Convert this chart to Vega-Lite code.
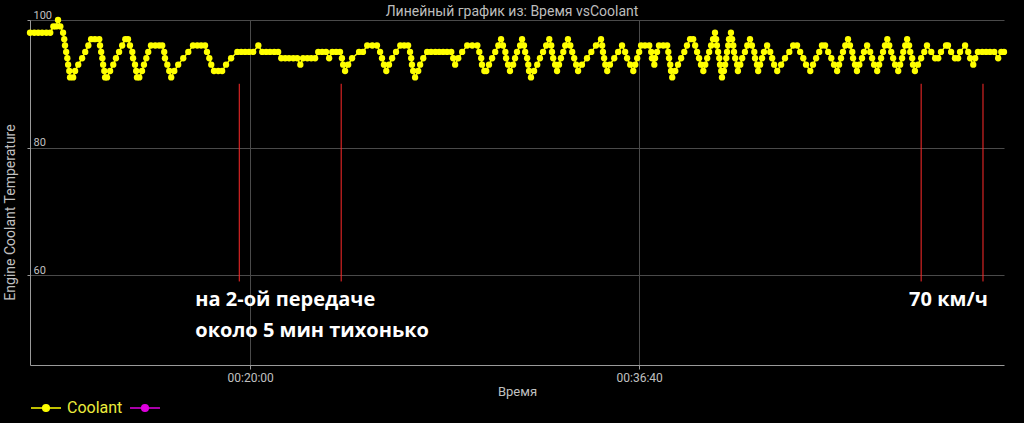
{
  "$schema": "https://vega.github.io/schema/vega-lite/v6.json",
  "width": 974,
  "height": 345,
  "autosize": {"type": "none"},
  "padding": {"left": 30, "top": 20, "right": 20, "bottom": 58},
  "background": "#000000",
  "title": {"text": "Линейный график из: Время vsCoolant", "color": "#bdbdbd", "font": "Roboto", "fontSize": 14, "fontWeight": "normal", "offset": 3, "dx": -5, "dy": 13},
  "config": {"view": {"stroke": null}, "font": "Roboto"},
  "datasets": {
    "coolant": [
      {"t":634,"v":98},{"t":645,"v":98},{"t":655,"v":98},{"t":665,"v":98},{"t":676,"v":98},{"t":686,"v":98},{"t":694,"v":99},{"t":701,"v":99},{"t":706,"v":100},{"t":712,"v":99},{"t":719,"v":98},{"t":722,"v":97},{"t":724,"v":96},{"t":727,"v":95},{"t":730,"v":94},{"t":732,"v":93},{"t":735,"v":92},{"t":737,"v":91},{"t":745,"v":91},{"t":750,"v":92},{"t":758,"v":93},{"t":768,"v":94},{"t":776,"v":95},{"t":784,"v":96},{"t":791,"v":97},{"t":801,"v":97},{"t":812,"v":97},{"t":814,"v":96},{"t":817,"v":95},{"t":820,"v":94},{"t":822,"v":93},{"t":825,"v":92},{"t":827,"v":91},{"t":832,"v":91},{"t":840,"v":92},{"t":848,"v":93},{"t":855,"v":94},{"t":863,"v":95},{"t":871,"v":96},{"t":879,"v":97},{"t":886,"v":97},{"t":891,"v":96},{"t":897,"v":95},{"t":899,"v":94},{"t":904,"v":93},{"t":907,"v":92},{"t":909,"v":91},{"t":915,"v":91},{"t":922,"v":92},{"t":927,"v":93},{"t":933,"v":94},{"t":938,"v":95},{"t":945,"v":96},{"t":956,"v":96},{"t":966,"v":96},{"t":974,"v":96},{"t":979,"v":95},{"t":981,"v":94},{"t":987,"v":93},{"t":992,"v":92},{"t":997,"v":91},{"t":1005,"v":92},{"t":1015,"v":93},{"t":1028,"v":94},{"t":1041,"v":95},{"t":1053,"v":96},{"t":1064,"v":96},{"t":1074,"v":96},{"t":1084,"v":96},{"t":1089,"v":95},{"t":1095,"v":94},{"t":1100,"v":93},{"t":1107,"v":92},{"t":1118,"v":92},{"t":1128,"v":92},{"t":1138,"v":93},{"t":1151,"v":94},{"t":1167,"v":95},{"t":1177,"v":95},{"t":1187,"v":95},{"t":1197,"v":95},{"t":1208,"v":95},{"t":1221,"v":96},{"t":1231,"v":95},{"t":1241,"v":95},{"t":1251,"v":95},{"t":1262,"v":95},{"t":1272,"v":95},{"t":1280,"v":94},{"t":1290,"v":94},{"t":1300,"v":94},{"t":1311,"v":94},{"t":1321,"v":94},{"t":1329,"v":93},{"t":1336,"v":94},{"t":1347,"v":94},{"t":1357,"v":94},{"t":1367,"v":94},{"t":1375,"v":95},{"t":1385,"v":95},{"t":1395,"v":95},{"t":1403,"v":94},{"t":1411,"v":95},{"t":1421,"v":95},{"t":1431,"v":95},{"t":1436,"v":94},{"t":1439,"v":93},{"t":1444,"v":92},{"t":1452,"v":93},{"t":1462,"v":94},{"t":1480,"v":95},{"t":1490,"v":95},{"t":1501,"v":96},{"t":1514,"v":96},{"t":1526,"v":96},{"t":1534,"v":95},{"t":1539,"v":94},{"t":1544,"v":93},{"t":1550,"v":92},{"t":1557,"v":93},{"t":1565,"v":94},{"t":1575,"v":95},{"t":1586,"v":96},{"t":1596,"v":96},{"t":1606,"v":96},{"t":1611,"v":95},{"t":1614,"v":94},{"t":1616,"v":93},{"t":1619,"v":92},{"t":1624,"v":91},{"t":1632,"v":92},{"t":1637,"v":93},{"t":1645,"v":94},{"t":1655,"v":95},{"t":1665,"v":95},{"t":1676,"v":95},{"t":1686,"v":95},{"t":1696,"v":95},{"t":1706,"v":95},{"t":1717,"v":95},{"t":1722,"v":94},{"t":1727,"v":93},{"t":1735,"v":94},{"t":1745,"v":95},{"t":1758,"v":96},{"t":1771,"v":96},{"t":1784,"v":96},{"t":1789,"v":95},{"t":1794,"v":94},{"t":1796,"v":93},{"t":1802,"v":92},{"t":1807,"v":92},{"t":1814,"v":93},{"t":1822,"v":94},{"t":1830,"v":95},{"t":1838,"v":96},{"t":1845,"v":97},{"t":1850,"v":96},{"t":1856,"v":95},{"t":1858,"v":94},{"t":1863,"v":93},{"t":1868,"v":92},{"t":1876,"v":93},{"t":1881,"v":94},{"t":1886,"v":95},{"t":1894,"v":96},{"t":1899,"v":97},{"t":1904,"v":96},{"t":1907,"v":95},{"t":1912,"v":94},{"t":1915,"v":93},{"t":1917,"v":92},{"t":1922,"v":91},{"t":1930,"v":92},{"t":1938,"v":93},{"t":1945,"v":94},{"t":1953,"v":95},{"t":1961,"v":96},{"t":1969,"v":97},{"t":1974,"v":96},{"t":1976,"v":95},{"t":1979,"v":94},{"t":1984,"v":93},{"t":1989,"v":92},{"t":1994,"v":93},{"t":1999,"v":94},{"t":2005,"v":95},{"t":2010,"v":96},{"t":2017,"v":97},{"t":2023,"v":96},{"t":2028,"v":95},{"t":2033,"v":94},{"t":2038,"v":93},{"t":2043,"v":92},{"t":2053,"v":93},{"t":2066,"v":94},{"t":2077,"v":95},{"t":2089,"v":96},{"t":2102,"v":97},{"t":2105,"v":96},{"t":2107,"v":95},{"t":2110,"v":94},{"t":2113,"v":93},{"t":2118,"v":92},{"t":2125,"v":93},{"t":2136,"v":94},{"t":2146,"v":95},{"t":2156,"v":96},{"t":2164,"v":95},{"t":2169,"v":94},{"t":2177,"v":93},{"t":2185,"v":92},{"t":2190,"v":93},{"t":2195,"v":94},{"t":2200,"v":95},{"t":2205,"v":96},{"t":2215,"v":96},{"t":2226,"v":96},{"t":2231,"v":95},{"t":2233,"v":94},{"t":2239,"v":93},{"t":2241,"v":94},{"t":2246,"v":95},{"t":2251,"v":96},{"t":2262,"v":96},{"t":2272,"v":96},{"t":2275,"v":95},{"t":2277,"v":94},{"t":2280,"v":93},{"t":2282,"v":92},{"t":2285,"v":91},{"t":2293,"v":92},{"t":2300,"v":93},{"t":2308,"v":94},{"t":2316,"v":95},{"t":2323,"v":96},{"t":2331,"v":97},{"t":2339,"v":97},{"t":2344,"v":96},{"t":2349,"v":95},{"t":2354,"v":94},{"t":2359,"v":93},{"t":2365,"v":92},{"t":2370,"v":93},{"t":2375,"v":94},{"t":2380,"v":95},{"t":2385,"v":96},{"t":2390,"v":97},{"t":2395,"v":98},{"t":2398,"v":97},{"t":2400,"v":96},{"t":2403,"v":95},{"t":2406,"v":94},{"t":2408,"v":93},{"t":2411,"v":92},{"t":2413,"v":91},{"t":2418,"v":92},{"t":2421,"v":93},{"t":2424,"v":94},{"t":2426,"v":95},{"t":2429,"v":96},{"t":2431,"v":97},{"t":2436,"v":98},{"t":2439,"v":97},{"t":2442,"v":96},{"t":2444,"v":95},{"t":2447,"v":94},{"t":2452,"v":93},{"t":2454,"v":92},{"t":2460,"v":93},{"t":2465,"v":94},{"t":2472,"v":95},{"t":2478,"v":96},{"t":2485,"v":97},{"t":2490,"v":96},{"t":2496,"v":95},{"t":2498,"v":94},{"t":2503,"v":93},{"t":2506,"v":92},{"t":2511,"v":93},{"t":2516,"v":94},{"t":2521,"v":95},{"t":2529,"v":96},{"t":2537,"v":95},{"t":2542,"v":94},{"t":2547,"v":93},{"t":2555,"v":92},{"t":2565,"v":93},{"t":2575,"v":94},{"t":2586,"v":95},{"t":2596,"v":96},{"t":2606,"v":96},{"t":2614,"v":95},{"t":2622,"v":94},{"t":2629,"v":93},{"t":2640,"v":92},{"t":2647,"v":93},{"t":2655,"v":94},{"t":2663,"v":95},{"t":2670,"v":96},{"t":2678,"v":96},{"t":2686,"v":95},{"t":2694,"v":94},{"t":2701,"v":93},{"t":2709,"v":92},{"t":2714,"v":93},{"t":2719,"v":94},{"t":2724,"v":95},{"t":2730,"v":96},{"t":2737,"v":97},{"t":2742,"v":96},{"t":2748,"v":95},{"t":2750,"v":94},{"t":2755,"v":93},{"t":2760,"v":92},{"t":2766,"v":93},{"t":2773,"v":94},{"t":2778,"v":95},{"t":2786,"v":96},{"t":2794,"v":95},{"t":2799,"v":94},{"t":2804,"v":93},{"t":2812,"v":92},{"t":2817,"v":93},{"t":2822,"v":94},{"t":2827,"v":95},{"t":2832,"v":96},{"t":2838,"v":97},{"t":2843,"v":96},{"t":2848,"v":95},{"t":2853,"v":94},{"t":2858,"v":93},{"t":2866,"v":92},{"t":2871,"v":93},{"t":2876,"v":94},{"t":2879,"v":95},{"t":2884,"v":96},{"t":2889,"v":97},{"t":2894,"v":96},{"t":2897,"v":95},{"t":2902,"v":94},{"t":2904,"v":93},{"t":2909,"v":92},{"t":2917,"v":93},{"t":2925,"v":94},{"t":2933,"v":95},{"t":2940,"v":96},{"t":2951,"v":95},{"t":2961,"v":94},{"t":2969,"v":94},{"t":2976,"v":95},{"t":2989,"v":96},{"t":2994,"v":96},{"t":3002,"v":95},{"t":3012,"v":94},{"t":3020,"v":94},{"t":3025,"v":95},{"t":3038,"v":96},{"t":3046,"v":95},{"t":3051,"v":94},{"t":3059,"v":93},{"t":3064,"v":94},{"t":3071,"v":95},{"t":3082,"v":95},{"t":3092,"v":95},{"t":3102,"v":95},{"t":3113,"v":95},{"t":3123,"v":94},{"t":3131,"v":95},{"t":3138,"v":95}
    ],
    "rules": [
      {"t":1172,"v":59,"v2":90},{"t":1434,"v":59,"v2":90},{"t":2925,"v":59,"v2":90},{"t":3084,"v":59,"v2":90}
    ],
    "notes": [
      {"t":1059,"v":56.1,"label":"на 2-ой передаче"},
      {"t":1059,"v":51.2,"label":"около 5 мин тихонько"},
      {"t":2894,"v":56.1,"label":"70 км/ч"}
    ]
  },
  "encoding": {
    "x": {"field": "t", "type": "quantitative", "title": "Время",
      "scale": {"domain": [634, 3138], "nice": false, "zero": false},
      "axis": {"values": [1200, 2200], "labelExpr": "utcFormat(datum.value*1000,'%H:%M:%S')", "grid": true, "gridColor": "#4a4a4a", "domainColor": "#9a9a9a", "tickColor": "#9a9a9a", "tickSize": 4, "labelColor": "#c0c0c0", "labelFontSize": 12, "labelPadding": 3, "labelFont": "Roboto", "titleColor": "#c0c0c0", "titleFontSize": 13, "titleFontWeight": "normal", "titleFont": "Roboto", "titlePadding": 2}},
    "y": {"field": "v", "type": "quantitative", "title": "Engine Coolant Temperature",
      "scale": {"domain": [45.9, 100], "nice": false, "zero": false},
      "axis": {"values": [60, 80, 100], "grid": true, "gridColor": "#4a4a4a", "domainColor": "#9a9a9a", "tickColor": "#9a9a9a", "tickSize": 3, "labelAlign": "left", "labelBaseline": "bottom", "labelPadding": -6, "labelColor": "#c0c0c0", "labelFontSize": 11, "labelFont": "Roboto", "titleColor": "#c0c0c0", "titleFontSize": 14, "titleFontWeight": "normal", "titleFont": "Roboto", "titleX": -20, "titleY": 192, "titleAngle": -90, "titleAlign": "center", "titleBaseline": "middle"}}
  },
  "layer": [
    {"data": {"name": "rules"}, "mark": {"type": "rule", "color": "#ff2a2a", "strokeWidth": 1},
      "encoding": {"y2": {"field": "v2"}}},
    {"data": {"name": "coolant"}, "mark": {"type": "line", "strokeWidth": 1.5},
      "encoding": {"color": {"datum": "Coolant", "type": "nominal",
        "scale": {"domain": ["Coolant", " "], "range": ["#ffff00", "#e000e0"]},
        "legend": {"title": null, "orient": "none", "legendX": 0, "legendY": 372, "direction": "horizontal",
          "symbolType": "M-1,0L1,0M0.22,0A0.22,0.22,0,1,1,-0.22,0A0.22,0.22,0,1,1,0.22,0Z",
          "symbolSize": 900, "symbolStrokeWidth": 1.5, "labelColor": "#ecec3c", "labelFontSize": 16, "labelFont": "Roboto", "columnPadding": 4, "labelOffset": 5,
          "encode": {"symbols": {"update": {"fill": {"scale": "color", "field": "value"}, "stroke": {"scale": "color", "field": "value"}}}}}}}},
    {"data": {"name": "coolant"}, "mark": {"type": "circle", "size": 40, "color": "#ffff00", "opacity": 1}},
    {"data": {"name": "notes"}, "mark": {"type": "text", "align": "left", "baseline": "middle", "font": "Open Sans", "fontSize": 20, "fontWeight": "bold", "color": "#ffffff"},
      "encoding": {"text": {"field": "label"}}}
  ]
}
